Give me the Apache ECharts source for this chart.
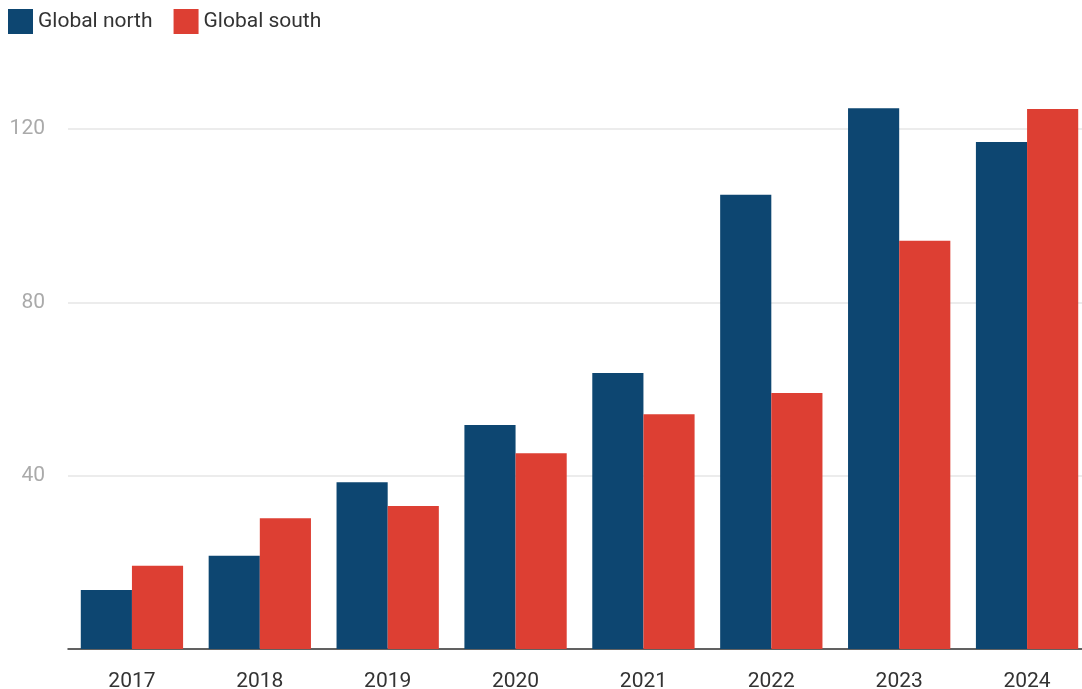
<!DOCTYPE html>
<html><head><meta charset="utf-8">
<script src="https://cdn.jsdelivr.net/npm/echarts@6/dist/echarts.min.js"></script>
<style>html,body{margin:0;padding:0;background:#fff;overflow:hidden}#c{width:1082px;height:689px}</style>
</head><body><div id="c"></div>
<script>
const categories = ['2017','2018','2019','2020','2021','2022','2023','2024'];
const globalNorth = [13.6, 21.5, 38.5, 51.7, 63.7, 104.8, 124.8, 117.0];
const globalSouth = [19.2, 30.2, 33.0, 45.2, 54.2, 59.1, 94.2, 124.6];
const yTicks = [0, 40, 80, 120];

const chart = echarts.init(document.getElementById('c'));
chart.setOption({
  animation: false,
  textStyle: {fontFamily: 'Roboto'},
  legend: {
    left: 8, top: 9, padding: 0, itemWidth: 25, itemHeight: 25, itemGap: 21,
    icon: 'rect',
    textStyle: {fontSize: 21, color: '#333', fontFamily: 'Roboto'},
    data: ['Global north', 'Global south']
  },
  grid: {left: 68, top: 129, right: -9, bottom: 40, containLabel: false, outerBoundsMode: 'none'},
  xAxis: {
    type: 'category', data: categories,
    axisLine: {lineStyle: {color: '#333', width: 1.5}},
    axisTick: {alignWithLabel: true, length: 9, lineStyle: {color: '#333', width: 1.5}},
    axisLabel: {fontSize: 21, color: '#333', margin: 22}
  },
  yAxis: {
    type: 'value', min: yTicks[0], max: yTicks[yTicks.length-1], interval: 40,
    axisLine: {show: false}, axisTick: {show: false},
    axisLabel: {fontSize: 21, color: '#aaa', margin: 23, showMinLabel: false},
    splitLine: {lineStyle: {color: '#e6e6e6', width: 1.5}}
  },
  series: [
    {name: 'Global north', type: 'bar', data: globalNorth, clip: false,
     itemStyle: {color: '#0d4671'}, barGap: '0%', barCategoryGap: '20%'},
    {name: 'Global south', type: 'bar', data: globalSouth, clip: false,
     itemStyle: {color: '#dd3f33'}, barGap: '0%', barCategoryGap: '20%'}
  ]
});
</script></body></html>
